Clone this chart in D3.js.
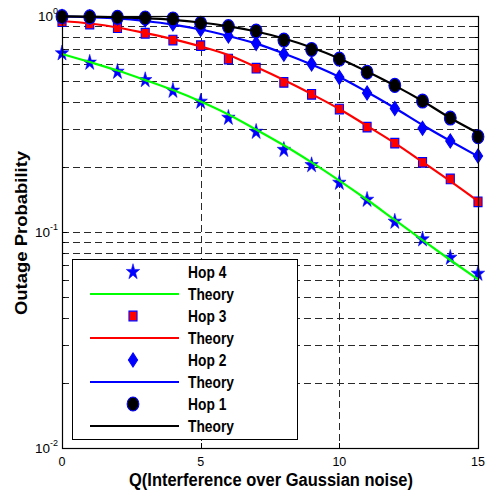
<!DOCTYPE html>
<html>
<head>
<meta charset="utf-8">
<script src="https://cdn.jsdelivr.net/npm/d3@7"></script>
<style>
  body { margin: 0; background: #fff; }
  text { font-family: "Liberation Sans", Arial, sans-serif; }
</style>
</head>
<body>
<svg id="chart" width="496" height="492"></svg>
<script>
// Q values (interference over Gaussian noise)
const qValues = d3.range(0, 16);

// simulated outage probability per hop
const hop4Sim = [0.672, 0.608, 0.552, 0.505, 0.451, 0.401, 0.338, 0.291, 0.240, 0.204, 0.169, 0.141, 0.1116, 0.0925, 0.076, 0.0641];
const hop3Sim = [0.941, 0.918, 0.883, 0.832, 0.774, 0.729, 0.632, 0.573, 0.493, 0.434, 0.371, 0.306, 0.258, 0.210, 0.176, 0.138];
const hop2Sim = [0.995, 0.989, 0.979, 0.958, 0.918, 0.866, 0.808, 0.747, 0.665, 0.600, 0.520, 0.440, 0.373, 0.302, 0.264, 0.225];
const hop1Sim = [0.993, 0.990, 0.986, 0.979, 0.969, 0.925, 0.893, 0.852, 0.774, 0.700, 0.632, 0.549, 0.477, 0.404, 0.337, 0.276];

// theory curves
const hop4Theory = [0.667, 0.612, 0.559, 0.505, 0.454, 0.402, 0.350, 0.298, 0.252, 0.210, 0.173, 0.141, 0.1137, 0.0918, 0.0742, 0.0603];
const hop3Theory = [0.948, 0.923, 0.885, 0.834, 0.782, 0.723, 0.660, 0.580, 0.505, 0.435, 0.371, 0.310, 0.258, 0.211, 0.172, 0.139];
const hop2Theory = [0.995, 0.987, 0.974, 0.948, 0.913, 0.866, 0.808, 0.745, 0.671, 0.596, 0.522, 0.445, 0.375, 0.313, 0.264, 0.224];
const hop1Theory = [0.997, 0.994, 0.987, 0.977, 0.960, 0.933, 0.896, 0.848, 0.787, 0.715, 0.636, 0.553, 0.476, 0.404, 0.337, 0.287];

const xTicks = [0, 5, 10, 15];
const yMajor = [1, 0.1, 0.01];
const yExponents = ["0", "-1", "-2"];
const legendLabels = ["Hop 4", "Theory", "Hop 3", "Theory", "Hop 2", "Theory", "Hop 1", "Theory"];

const series = [
  {sim: hop4Sim, theory: hop4Theory, marker: "star", fill: "#0000ff", line: "#00ff00"},
  {sim: hop3Sim, theory: hop3Theory, marker: "square", fill: "#ff0000", line: "#ff0000"},
  {sim: hop2Sim, theory: hop2Theory, marker: "diamond", fill: "#0000ff", line: "#0000ff"},
  {sim: hop1Sim, theory: hop1Theory, marker: "circle", fill: "#000000", line: "#000000"}
];

const plot = {left: 62, right: 478, top: 16, bottom: 448};
const svg = d3.select("#chart");

const x = d3.scaleLinear().domain([0, 15]).range([plot.left, plot.right]);
const y = d3.scaleLog().domain([0.01, 1]).range([plot.bottom, plot.top]);

// minor log ticks 2..9 per decade
const yMinor = [];
[0.01, 0.1].forEach(d => { for (let k = 2; k <= 9; k++) yMinor.push(d * k); });

function markerPath(kind) {
  if (kind === "star") return d3.symbol(d3.symbolStar, 56)();
  if (kind === "square") return d3.symbol(d3.symbolSquare, 66)();
  if (kind === "circle") return d3.symbol(d3.symbolCircle, 110)();
  return "M0,-6L4.6,0L0,6L-4.6,0Z";
}

// grid
const grid = svg.append("g").attr("class", "grid")
  .attr("stroke", "#2a2a2a").attr("stroke-width", 1).attr("stroke-dasharray", "7,4");
grid.selectAll("line.h")
  .data(yMinor.concat([0.1]))
  .enter().append("line")
  .attr("x1", plot.left).attr("x2", plot.right)
  .attr("y1", d => Math.round(y(d)) + 0.5).attr("y2", d => Math.round(y(d)) + 0.5);
grid.selectAll("line.v")
  .data([5, 10])
  .enter().append("line")
  .attr("y1", plot.top).attr("y2", plot.bottom)
  .attr("x1", d => Math.round(x(d)) + 0.5).attr("x2", d => Math.round(x(d)) + 0.5);

// ticks (inward)
const ticks = svg.append("g").attr("stroke", "#000").attr("stroke-width", 1);
xTicks.forEach(t => {
  const px = Math.round(x(t)) + 0.5;
  ticks.append("line").attr("x1", px).attr("x2", px).attr("y1", plot.bottom).attr("y2", plot.bottom - 5);
  ticks.append("line").attr("x1", px).attr("x2", px).attr("y1", plot.top).attr("y2", plot.top + 5);
});
yMinor.concat(yMajor).forEach(t => {
  const py = Math.round(y(t)) + 0.5;
  const len = yMajor.includes(t) ? 5 : 3;
  ticks.append("line").attr("x1", plot.left).attr("x2", plot.left + len).attr("y1", py).attr("y2", py);
  ticks.append("line").attr("x1", plot.right).attr("x2", plot.right - len).attr("y1", py).attr("y2", py);
});

// data
const line = d3.line().x((d, i) => x(qValues[i])).y(d => y(d)).curve(d3.curveMonotoneX);
const data = svg.append("g").attr("class", "data");
series.forEach(s => {
  data.append("g").selectAll("path")
    .data(s.sim)
    .enter().append("path")
    .attr("d", markerPath(s.marker))
    .attr("transform", (d, i) => `translate(${x(qValues[i])},${y(d)}) scale(1,1.18)`)
    .attr("fill", s.fill)
    .attr("stroke", "#0000ff")
    .attr("stroke-width", s.marker === "star" ? 0.5 : 1);
  data.append("path")
    .datum(s.theory)
    .attr("fill", "none")
    .attr("stroke", s.line)
    .attr("stroke-width", 2.2)
    .attr("d", line);
});

// axes box
svg.append("rect")
  .attr("x", plot.left + 0.5).attr("y", plot.top + 0.5)
  .attr("width", plot.right - plot.left).attr("height", plot.bottom - plot.top)
  .attr("fill", "none").attr("stroke", "#000").attr("stroke-width", 1.2);

// tick labels
svg.append("g").selectAll("text")
  .data(xTicks)
  .enter().append("text")
  .attr("x", d => x(d)).attr("y", 466)
  .attr("text-anchor", "middle")
  .attr("font-size", 12.5)
  .text(d => d);

const yLab = svg.append("g").selectAll("text")
  .data(yMajor)
  .enter().append("text")
  .attr("x", 58).attr("y", d => y(d) + 4.5)
  .attr("text-anchor", "end")
  .attr("font-size", 13.5);
yLab.append("tspan").text("10");
yLab.append("tspan").attr("dy", -7).attr("font-size", 9).text((d, i) => yExponents[i]);

// axis titles
svg.append("text")
  .attr("transform", "translate(271,486) scale(1,1.12)")
  .attr("text-anchor", "middle")
  .attr("font-size", 16.5).attr("font-weight", "bold")
  .text("Q(Interference over Gaussian noise)");
svg.append("text")
  .attr("transform", "translate(27,233) rotate(-90) scale(1.12,1)")
  .attr("text-anchor", "middle")
  .attr("font-size", 16.5).attr("font-weight", "bold")
  .text("Outage Probability");

// legend
const legend = svg.append("g").attr("class", "legend");
legend.append("rect")
  .attr("x", 72.5).attr("y", 259.5).attr("width", 225).attr("height", 180)
  .attr("fill", "#fff").attr("stroke", "#000").attr("stroke-width", 1);
const rowY = i => 272 + i * 22;
legendLabels.forEach((lab, i) => {
  const s = series[Math.floor(i / 2)];
  const cy = rowY(i);
  if (i % 2 === 0) {
    legend.append("path")
      .attr("d", markerPath(s.marker))
      .attr("transform", `translate(133,${cy}) scale(1,1.18)`)
      .attr("fill", s.fill)
      .attr("stroke", "#0000ff")
      .attr("stroke-width", s.marker === "star" ? 0.5 : 1);
  } else {
    legend.append("line")
      .attr("x1", 90).attr("x2", 179).attr("y1", cy).attr("y2", cy)
      .attr("stroke", s.line).attr("stroke-width", 2.2);
  }
  legend.append("text")
    .attr("transform", `translate(188,${cy + 5.5}) scale(1,1.15)`)
    .attr("font-size", 13.8).attr("font-weight", "bold")
    .text(lab);
});
</script>
</body>
</html>
